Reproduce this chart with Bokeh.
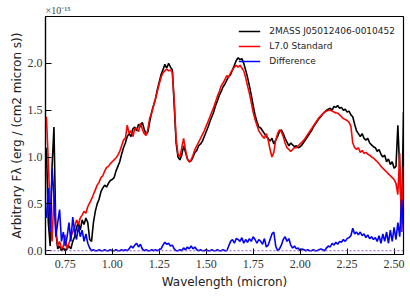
import numpy as np
from bokeh.plotting import figure
from bokeh.models import Range1d, FixedTicker, PrintfTickFormatter, Span, Legend, LegendItem
from bokeh.embed import file_html
from bokeh.resources import INLINE

# wavelength grid (micron), 0.01 step
wave = np.round(np.arange(65, 256) / 100.0, 2)

# 2MASS J05012406-0010452 (units of 1e-15)
flux_obj = [
    1.10, 0.30, 0.05, 0.90, 1.32, 0.20, 0.02, 0.05, 0.00, 0.03,
    0.00, 0.02, 0.05, 0.02, 0.10, 0.15, 0.25, 0.30, 0.22, 0.33,
    0.28, 0.35, 0.30, 0.12, 0.10, 0.30, 0.42, 0.50, 0.55, 0.63,
    0.67, 0.70, 0.68, 0.72, 0.75, 0.76, 0.78, 0.85, 0.90, 0.95,
    1.03, 1.10, 1.15, 1.22, 1.25, 1.22, 1.30, 1.32, 1.28, 1.35,
    1.32, 1.37, 1.30, 1.24, 1.27, 1.38, 1.48, 1.55, 1.62, 1.72,
    1.80, 1.88, 1.93, 1.99, 1.95, 2.00, 1.96, 1.93, 1.55, 1.15,
    1.00, 0.97, 1.02, 1.12, 1.05, 0.98, 0.95, 0.96, 1.00, 1.05,
    1.07, 1.12, 1.14, 1.17, 1.22, 1.27, 1.32, 1.38, 1.43, 1.48,
    1.55, 1.60, 1.66, 1.70, 1.75, 1.78, 1.82, 1.86, 1.88, 1.93,
    1.98, 2.03, 2.06, 2.04, 2.05, 2.00, 1.93, 1.85, 1.76, 1.66,
    1.55, 1.45, 1.38, 1.32, 1.31, 1.28, 1.25, 1.22, 1.20, 1.17,
    1.20, 1.14, 1.18, 1.22, 1.27, 1.29, 1.25, 1.20, 1.16, 1.12,
    1.15, 1.13, 1.11, 1.12, 1.10, 1.11, 1.13, 1.16, 1.19, 1.22,
    1.25, 1.28, 1.32, 1.35, 1.38, 1.41, 1.43, 1.46, 1.48, 1.50,
    1.51, 1.52, 1.50, 1.54, 1.53, 1.55, 1.52, 1.53, 1.50, 1.51,
    1.48, 1.49, 1.45, 1.43, 1.35, 1.28, 1.25, 1.22, 1.25, 1.20,
    1.18, 1.20, 1.15, 1.13, 1.11, 1.10, 1.06, 1.08, 1.03, 1.00,
    1.02, 0.95, 0.98, 0.92, 0.95, 0.88, 0.90, 1.34, 0.85, 0.30,
    1.48,
]

# L7.0 standard
flux_std = [
    1.43, 0.95, 0.40, 0.10, 0.60, 0.25, 0.05, 0.10, 0.02, 0.05,
    0.17, 0.02, 0.08, 0.15, 0.20, 0.25, 0.33, 0.28, 0.35, 0.38,
    0.42, 0.40, 0.47, 0.51, 0.55, 0.60, 0.65, 0.70, 0.73, 0.78,
    0.80, 0.85, 0.89, 0.90, 0.93, 0.95, 0.97, 0.99, 1.02, 1.06,
    1.12, 1.18, 1.20, 1.34, 1.25, 1.28, 1.22, 1.30, 1.31, 1.27,
    1.36, 1.30, 1.25, 1.23, 1.30, 1.42, 1.47, 1.55, 1.62, 1.70,
    1.78, 1.85, 1.90, 1.92, 1.94, 1.92, 1.93, 1.90, 1.60, 1.20,
    1.03, 1.00, 1.10, 1.20, 1.08, 0.98, 0.95, 0.97, 1.02, 1.08,
    1.12, 1.16, 1.20, 1.24, 1.28, 1.33, 1.38, 1.43, 1.48, 1.53,
    1.59, 1.65, 1.70, 1.76, 1.79, 1.83, 1.87, 1.85, 1.90, 1.93,
    1.96, 1.98, 1.96, 1.98, 1.95, 1.92, 1.85, 1.76, 1.68, 1.58,
    1.48, 1.40, 1.34, 1.28, 1.25, 1.22, 1.20, 1.25, 1.18, 1.08,
    1.00, 1.05, 1.18, 1.25, 1.29, 1.27, 1.22, 1.15, 1.10, 1.08,
    1.06, 1.08, 1.10, 1.10, 1.12, 1.14, 1.16, 1.18, 1.21, 1.24,
    1.27, 1.30, 1.33, 1.36, 1.39, 1.42, 1.44, 1.46, 1.48, 1.49,
    1.50, 1.50, 1.49, 1.48, 1.47, 1.47, 1.45, 1.43, 1.41, 1.40,
    1.39, 1.37, 1.33, 1.15, 1.10, 1.08, 1.10, 1.05, 1.07, 1.04,
    1.05, 1.03, 1.02, 1.00, 0.99, 0.97, 0.95, 0.93, 0.90, 0.88,
    0.86, 0.84, 0.82, 0.80, 0.78, 0.76, 0.72, 0.60, 1.04, 0.20,
    0.90,
]

# Difference
flux_diff = [
    0.35, 0.67, 0.20, 0.88, 0.60, 0.15, 0.30, 0.44, 0.10, 0.20,
    0.05, 0.15, 0.30, 0.10, 0.36, 0.20, 0.12, 0.26, 0.15, 0.22,
    0.10, 0.18, 0.08, 0.03, 0.00, 0.01, 0.00, 0.00, 0.01, 0.00,
    0.00, 0.01, 0.00, 0.00, 0.01, 0.00, 0.00, 0.01, 0.00, 0.00,
    0.01, 0.00, 0.01, 0.00, 0.02, 0.05, 0.03, 0.06, 0.08, 0.04,
    0.07, 0.02, 0.00, 0.01, 0.00, 0.00, 0.01, 0.00, 0.01, 0.00,
    0.01, 0.02, 0.06, 0.09, 0.07, 0.08, 0.05, 0.06, 0.02, 0.00,
    0.00, 0.01, 0.00, 0.03, 0.01, 0.04, 0.02, 0.05, 0.02, 0.04,
    0.01, 0.00, 0.01, 0.00, 0.00, 0.01, 0.00, 0.00, 0.01, 0.00,
    0.00, 0.01, 0.00, 0.00, 0.01, 0.00, 0.00, 0.05, 0.10, 0.12,
    0.08, 0.13, 0.12, 0.10, 0.14, 0.08, 0.12, 0.09, 0.13, 0.10,
    0.15, 0.12, 0.08, 0.12, 0.10, 0.07, 0.13, 0.04, 0.06, 0.12,
    0.18, 0.20, 0.05, 0.00, 0.02, 0.06, 0.12, 0.15, 0.10, 0.13,
    0.06, 0.03, 0.05, 0.02, 0.03, 0.00, 0.02, 0.01, 0.00, 0.01,
    0.00, 0.00, 0.01, 0.00, 0.00, 0.01, 0.02, 0.01, 0.00, 0.03,
    0.05, 0.04, 0.08, 0.06, 0.09, 0.07, 0.10, 0.09, 0.12, 0.10,
    0.13, 0.14, 0.16, 0.24, 0.18, 0.20, 0.17, 0.20, 0.16, 0.18,
    0.14, 0.17, 0.13, 0.15, 0.12, 0.14, 0.10, 0.16, 0.08, 0.18,
    0.10, 0.20, 0.08, 0.22, 0.10, 0.25, 0.12, 0.30, 0.15, 0.55,
    0.20,
]

x_ticks = [0.75, 1.00, 1.25, 1.50, 1.75, 2.00, 2.25, 2.50]
y_ticks = [0.0, 0.5, 1.0, 1.5, 2.0]
names = ["2MASS J05012406-0010452", "L7.0 Standard", "Difference"]
scale_text = "\u00d710\u207b\u00b9\u2075"

p = figure(width=408, height=295, output_backend="svg", toolbar_location=None,
           x_range=Range1d(0.645, 2.55), y_range=Range1d(-0.04, 2.5),
           min_border_left=45, min_border_right=5, min_border_top=16, min_border_bottom=41,
           title=scale_text)
p.grid.visible = False
p.outline_line_color = "black"
p.outline_line_width = 1.2
p.background_fill_color = "white"
p.border_fill_color = "white"

serif = "Liberation Serif"
sans = "DejaVu Sans"

p.title.text_font = serif
p.title.text_font_size = "10px"
p.title.text_font_style = "normal"
p.title.text_color = "#444444"
p.title.align = "left"
p.title.standoff = 2
p.title.offset = 0

for ax in (p.xaxis[0], p.yaxis[0]):
    ax.major_tick_in = 6
    ax.major_tick_out = 0
    ax.minor_tick_in = 0
    ax.minor_tick_out = 0
    ax.axis_line_width = 1.2
    ax.major_tick_line_width = 1
    ax.major_label_text_font = serif
    ax.major_label_text_font_size = "12px"
    ax.major_label_text_color = "#333333"
    ax.axis_label_text_font = sans
    ax.axis_label_text_font_size = "12px"
    ax.axis_label_text_font_style = "normal"
    ax.axis_label_text_color = "#222222"

p.xaxis.ticker = FixedTicker(ticks=x_ticks)
p.yaxis.ticker = FixedTicker(ticks=y_ticks)
p.xaxis.formatter = PrintfTickFormatter(format="%.2f")
p.yaxis.formatter = PrintfTickFormatter(format="%.1f")
p.xaxis.axis_label = "Wavelength (micron)"
p.yaxis.axis_label = "Arbitrary F\u03bb (erg / (cm2 micron s))"
p.xaxis.major_label_standoff = 5
p.yaxis.major_label_standoff = 3
p.xaxis.axis_label_standoff = 4
p.yaxis.axis_label_standoff = 1

zero = Span(location=0, dimension="width", line_color="#9050c0", line_dash="2 2", line_width=1)
p.add_layout(zero)

r1 = p.line(wave, flux_obj, line_color="black", line_width=1.6)
r2 = p.line(wave, flux_std, line_color="#ff0000", line_width=1.6)
r3 = p.line(wave, flux_diff, line_color="#0000ff", line_width=1.6)

legend = Legend(items=[LegendItem(label=names[0], renderers=[r1]),
                       LegendItem(label=names[1], renderers=[r2]),
                       LegendItem(label=names[2], renderers=[r3])],
                location="top_right")
legend.border_line_alpha = 0
legend.background_fill_alpha = 0
legend.label_text_font = sans
legend.label_text_font_size = "9px"
legend.label_text_color = "#222222"
legend.glyph_width = 22
legend.glyph_height = 14
legend.label_height = 14
legend.label_standoff = 9
legend.spacing = 1
legend.padding = 4
legend.margin = 4
p.add_layout(legend)

open("out.html", "w").write(file_html(p, INLINE))
